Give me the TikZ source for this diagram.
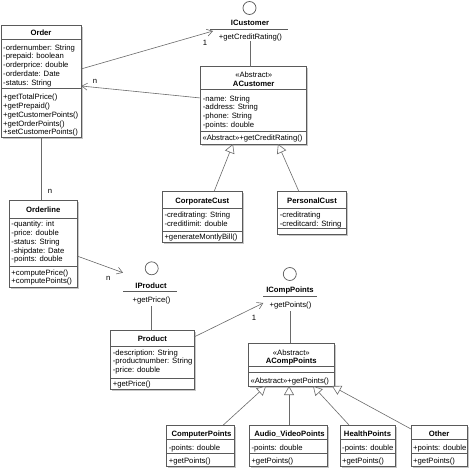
\documentclass[tikz,border=0pt]{standalone}
\usepackage{fontspec}
\setmainfont{Liberation Sans}
\usetikzlibrary{arrows.meta,shadows}
\definecolor{bordc}{HTML}{5A5A5A}
\definecolor{connc}{HTML}{6A6A6A}
\newcommand\umlfont{\fontsize{7.7}{9}\selectfont}
\begin{document}
\begin{tikzpicture}[x=1pt,y=-1pt,
  box/.style={draw=bordc, line width=0.7pt, fill=white, inner sep=0pt, outer sep=0pt, anchor=north west,
    drop shadow={shadow xshift=1.6pt, shadow yshift=-1.6pt, fill=black!22, opacity=1}},
  sepl/.style={draw=bordc, line width=0.7pt},
  tx/.style={font=\umlfont, inner sep=0pt, anchor=base west},
  tc/.style={font=\umlfont, inner sep=0pt, anchor=base},
  tt/.style={font=\umlfont\bfseries, inner sep=0pt, anchor=base},
  conn/.style={draw=connc, line width=0.6pt},
  assoc/.style={conn, -{Straight Barb[length=5.5pt, width=7pt]}},
  gen/.style={conn, -{Triangle[open, length=9pt, width=10pt, fill=white]}},
  iface/.style={circle, draw=bordc, line width=0.7pt, minimum size=13pt, inner sep=0pt, outer sep=0pt},
  lbl/.style={font=\umlfont, inner sep=0pt, anchor=center}
]
\useasboundingbox (0,0) rectangle (474,471);

% ---------------- Order
\node[box, minimum width=80pt, minimum height=112pt] (order) at (1,25) {};
\draw[sepl] ([yshift=-14pt]order.north west) -- ([yshift=-14pt]order.north east);
\draw[sepl] ([yshift=-63pt]order.north west) -- ([yshift=-63pt]order.north east);
\node[tt] (orderT) at (41,35.7) {Order};
\foreach \t [count=\i from 0] in {-ordernumber: String,-prepaid: boolean,-orderprice: double,-orderdate: Date,-status: String}
  \node[tx] (order-a\i) at (3,{50+8.85*\i}) {\t};
\foreach \t [count=\i from 0] in {+getTotalPrice(),+getPrepaid(),+getCustomerPoints(),+getOrderPoints(),+setCustomerPoints()}
  \node[tx] (order-m\i) at (3,{99.7+8.8*\i}) {\t};

% ---------------- ICustomer
\node[iface] (icust) at (249.5,8) {};
\node[tt] (icustT) at (250,25.7) {ICustomer};
\coordinate (icL) at (210,29);
\coordinate (icR) at (288,29);
\draw[sepl] (icL) -- (icR);
\node[tc] (icustM) at (250.5,39.7) {+getCreditRating()};

% ---------------- ACustomer
\node[box, minimum width=106pt, minimum height=77.3pt] (acust) at (200.7,66.7) {};
\draw[sepl] ([yshift=-22.3pt]acust.north west) -- ([yshift=-22.3pt]acust.north east);
\draw[sepl] ([yshift=-64.3pt]acust.north west) -- ([yshift=-64.3pt]acust.north east);
\node[tc] (acustS) at (253.7,77.7) {«Abstract»};
\node[tt] (acustT) at (253.7,86.7) {ACustomer};
\foreach \t [count=\i from 0] in {-name: String,-address: String,-phone: String,-points: double}
  \node[tx] (acust-a\i) at (202.7,{101+8.9*\i}) {\t};
\node[tx] (acustM) at (202.3,140.4) {«Abstract»+getCreditRating()};

% ---------------- CorporateCust
\node[box, minimum width=80pt, minimum height=50.6pt] (corp) at (162.3,191.7) {};
\draw[sepl] ([yshift=-16.6pt]corp.north west) -- ([yshift=-16.6pt]corp.north east);
\draw[sepl] ([yshift=-40pt]corp.north west) -- ([yshift=-40pt]corp.north east);
\node[tt] (corpT) at (202.3,203.4) {CorporateCust};
\node[tx] (corp-a0) at (164.3,217.7) {-creditrating: String};
\node[tx] (corp-a1) at (164.3,226.6) {-creditlimit: double};
\node[tx] (corpM) at (164.3,239.8) {+generateMontlyBill()};

% ---------------- PersonalCust
\node[box, minimum width=68.5pt, minimum height=42.6pt] (pers) at (277.7,191.7) {};
\draw[sepl] ([yshift=-16.6pt]pers.north west) -- ([yshift=-16.6pt]pers.north east);
\draw[sepl] ([yshift=-36.8pt]pers.north west) -- ([yshift=-36.8pt]pers.north east);
\node[tt] (persT) at (312,203.4) {PersonalCust};
\node[tx] (pers-a0) at (279.7,217.5) {-creditrating};
\node[tx] (pers-a1) at (279.7,226.2) {-creditcard: String};

% ---------------- Orderline
\node[box, minimum width=67.7pt, minimum height=87pt] (oline) at (9.3,200) {};
\draw[sepl] ([yshift=-18pt]oline.north west) -- ([yshift=-18pt]oline.north east);
\draw[sepl] ([yshift=-66pt]oline.north west) -- ([yshift=-66pt]oline.north east);
\node[tt] (olineT) at (43.2,212.7) {Orderline};
\foreach \t [count=\i from 0] in {-quantity: int,-price: double,-status: String,-shipdate: Date,-points: double}
  \node[tx] (oline-a\i) at (11.3,{226.7+8.8*\i}) {\t};
\node[tx] (oline-m0) at (11.3,275) {+computePrice()};
\node[tx] (oline-m1) at (11.3,283.4) {+computePoints()};

% ---------------- IProduct
\node[iface] (iprod) at (151.7,268.3) {};
\node[tt] (iprodT) at (151,288.4) {IProduct};
\coordinate (ipL) at (123,291);
\coordinate (ipR) at (177,291);
\draw[sepl] (ipL) -- (ipR);
\node[tc] (iprodM) at (151.5,302.5) {+getPrice()};

% ---------------- Product
\node[box, minimum width=83.3pt, minimum height=58.5pt] (prod) at (110.7,330.5) {};
\draw[sepl] ([yshift=-15.5pt]prod.north west) -- ([yshift=-15.5pt]prod.north east);
\draw[sepl] ([yshift=-48pt]prod.north west) -- ([yshift=-48pt]prod.north east);
\node[tt] (prodT) at (152.3,341.7) {Product};
\foreach \t [count=\i from 0] in {-description: String,-productnumber: String,-price: double}
  \node[tx] (prod-a\i) at (112.7,{355+8.7*\i}) {\t};
\node[tx] (prodM) at (112.7,386.2) {+getPrice()};

% ---------------- ICompPoints
\node[iface] (icomp) at (289.8,274) {};
\node[tt] (icompT) at (290,292.7) {ICompPoints};
\coordinate (icpL) at (263,296);
\coordinate (icpR) at (316.7,296);
\draw[sepl] (icpL) -- (icpR);
\node[tc] (icompM) at (290.5,307.5) {+getPoints()};

% ---------------- ACompPoints
\node[box, minimum width=86pt, minimum height=42.7pt] (acomp) at (248.3,343.3) {};
\draw[sepl] ([yshift=-23.4pt]acomp.north west) -- ([yshift=-23.4pt]acomp.north east);
\draw[sepl] ([yshift=-29pt]acomp.north west) -- ([yshift=-29pt]acomp.north east);
\node[tc] (acompS) at (291.3,355) {«Abstract»};
\node[tt] (acompT) at (291.3,363.7) {ACompPoints};
\node[tx] (acompM) at (250.3,383.3) {«Abstract»+getPoints()};

% ---------------- bottom classes
\node[box, minimum width=67.3pt, minimum height=41pt] (cpts) at (166.7,425) {};
\node[box, minimum width=78pt, minimum height=41pt] (avpts) at (249.3,425) {};
\node[box, minimum width=55pt, minimum height=41pt] (hpts) at (340,425) {};
\node[box, minimum width=56.3pt, minimum height=41pt] (other) at (411,425) {};
\foreach \n in {cpts,avpts,hpts,other}{
  \draw[sepl] ([yshift=-14.5pt]\n.north west) -- ([yshift=-14.5pt]\n.north east);
  \draw[sepl] ([yshift=-28.5pt]\n.north west) -- ([yshift=-28.5pt]\n.north east);
}
\node[tt] (cptsT) at (201.5,436) {ComputerPoints};
\node[tx] (cptsA) at (168.7,450.6) {-points: double};
\node[tx] (cptsM) at (168.7,463) {+getPoints()};
\node[tt] (avptsT) at (289.5,436) {Audio\_VideoPoints};
\node[tx] (avptsA) at (251.3,450.6) {-points: double};
\node[tx] (avptsM) at (251.3,463) {+getPoints()};
\node[tt] (hptsT) at (367.5,436) {HealthPoints};
\node[tx] (hptsA) at (342,450.6) {-points: double};
\node[tx] (hptsM) at (342,463) {+getPoints()};
\node[tt] (otherT) at (439.2,436) {Other};
\node[tx] (otherA) at (413,450.6) {+points: double};
\node[tx] (otherM) at (413,463) {+getPoints()};

% ---------------- connectors
\coordinate (oIc) at (81,69);
\coordinate (icIn) at (213,31);
\draw[assoc] (oIc) -- (icIn);
\node[lbl] (l1) at (205,43) {1};

\coordinate (acOut) at (200.7,98);
\coordinate (oIn) at (81.3,86);
\draw[assoc] (acOut) -- (oIn);
\node[lbl] (l2) at (95,81) {n};

\draw[conn] (icustM.south) -- (icustM.south |- acust.north);

\coordinate (oBot) at (41.7,137);
\coordinate (olTop) at (41.7,200);
\draw[conn] (oBot) -- (olTop);
\node[lbl] (l3) at (50,191) {n};

\coordinate (olOut) at (77,256);
\coordinate (ipIn) at (123,272.7);
\draw[assoc] (olOut) -- (ipIn);
\node[lbl] (l4) at (108.3,278.3) {n};

\coordinate (ipBot) at (151.7,306);
\draw[conn] (ipBot) -- (ipBot |- prod.north);

\coordinate (prOut) at (194,337);
\coordinate (icpIn) at (263.3,303);
\draw[assoc] (prOut) -- (icpIn);
\node[lbl] (l5) at (254,318) {1};

\coordinate (icpBot) at (290.7,311);
\draw[conn] (icpBot) -- (icpBot |- acomp.north);

\coordinate (corpTop) at (214,191.7);
\coordinate (acT1) at (233,144);
\draw[gen] (corpTop) -- (acT1);
\coordinate (persTop) at (299,191.7);
\coordinate (acT2) at (278,144);
\draw[gen] (persTop) -- (acT2);

\coordinate (cpTop) at (223.3,425);
\coordinate (apT1) at (266,386);
\draw[gen] (cpTop) -- (apT1);
\coordinate (avTop) at (289,425);
\coordinate (apT2) at (289,386);
\draw[gen] (avTop) -- (apT2);
\coordinate (hpTop) at (349,425);
\coordinate (apT3) at (313,386);
\draw[gen] (hpTop) -- (apT3);
\coordinate (otLeft) at (411,429);
\coordinate (apT4) at (332,386);
\draw[gen] (otLeft) -- (apT4);
\end{tikzpicture}
\end{document}
